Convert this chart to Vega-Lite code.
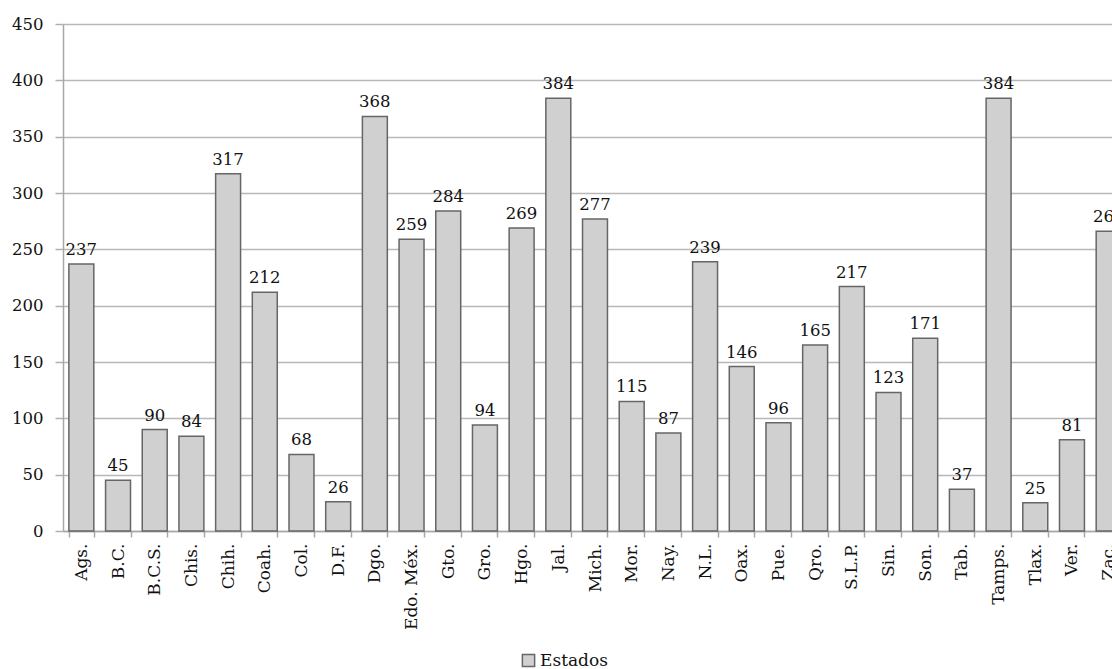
{
  "$schema": "https://vega.github.io/schema/vega-lite/v6.json",
  "autosize": {"type": "none"},
  "padding": {"left": 63, "top": 24, "right": 0, "bottom": 138},
  "width": 1049,
  "height": 507,
  "background": "white",
  "config": {
    "view": {"stroke": null},
    "font": "DejaVu Serif"
  },
  "data": {
    "values": [
      {"estado": "Ags.", "valor": 237, "serie": "Estados"},
      {"estado": "B.C.", "valor": 45, "serie": "Estados"},
      {"estado": "B.C.S.", "valor": 90, "serie": "Estados"},
      {"estado": "Chis.", "valor": 84, "serie": "Estados"},
      {"estado": "Chih.", "valor": 317, "serie": "Estados"},
      {"estado": "Coah.", "valor": 212, "serie": "Estados"},
      {"estado": "Col.", "valor": 68, "serie": "Estados"},
      {"estado": "D.F.", "valor": 26, "serie": "Estados"},
      {"estado": "Dgo.", "valor": 368, "serie": "Estados"},
      {"estado": "Edo. Méx.", "valor": 259, "serie": "Estados"},
      {"estado": "Gto.", "valor": 284, "serie": "Estados"},
      {"estado": "Gro.", "valor": 94, "serie": "Estados"},
      {"estado": "Hgo.", "valor": 269, "serie": "Estados"},
      {"estado": "Jal.", "valor": 384, "serie": "Estados"},
      {"estado": "Mich.", "valor": 277, "serie": "Estados"},
      {"estado": "Mor.", "valor": 115, "serie": "Estados"},
      {"estado": "Nay.", "valor": 87, "serie": "Estados"},
      {"estado": "N.L.", "valor": 239, "serie": "Estados"},
      {"estado": "Oax.", "valor": 146, "serie": "Estados"},
      {"estado": "Pue.", "valor": 96, "serie": "Estados"},
      {"estado": "Qro.", "valor": 165, "serie": "Estados"},
      {"estado": "S.L.P.", "valor": 217, "serie": "Estados"},
      {"estado": "Sin.", "valor": 123, "serie": "Estados"},
      {"estado": "Son.", "valor": 171, "serie": "Estados"},
      {"estado": "Tab.", "valor": 37, "serie": "Estados"},
      {"estado": "Tamps.", "valor": 384, "serie": "Estados"},
      {"estado": "Tlax.", "valor": 25, "serie": "Estados"},
      {"estado": "Ver.", "valor": 81, "serie": "Estados"},
      {"estado": "Zac.", "valor": 266, "serie": "Estados"}
    ]
  },
  "encoding": {
    "x": {
      "field": "estado",
      "type": "nominal",
      "sort": null,
      "scale": {"range": [0, 1064], "paddingInner": 0.32, "paddingOuter": 0.16},
      "axis": {
        "title": null,
        "labelAngle": -90,
        "labelAlign": "right",
        "labelBaseline": "middle",
        "labelFont": "DejaVu Serif",
        "labelFontSize": 17,
        "labelColor": "#111111",
        "labelPadding": 6,
        "labelOverlap": false,
        "labelBound": false,
        "tickBand": "extent",
        "tickSize": 6,
        "tickColor": "#a8a8a8",
        "tickWidth": 1.5,
        "domainColor": "#a8a8a8",
        "domainWidth": 1.5,
        "grid": false
      }
    },
    "y": {
      "field": "valor",
      "type": "quantitative",
      "scale": {"domain": [0, 450], "nice": false},
      "axis": {
        "title": null,
        "values": [0, 50, 100, 150, 200, 250, 300, 350, 400, 450],
        "labelFont": "DejaVu Serif",
        "labelFontSize": 16.5,
        "labelColor": "#111111",
        "labelPadding": 12,
        "tickSize": 8,
        "tickColor": "#b0b0b0",
        "tickWidth": 1.5,
        "domainColor": "#a8a8a8",
        "domainWidth": 1.5,
        "grid": true,
        "gridColor": "#b8b8b8",
        "gridWidth": 1.5
      }
    }
  },
  "layer": [
    {
      "mark": {"type": "bar", "stroke": "#666666", "strokeWidth": 1.5},
      "encoding": {
        "color": {
          "field": "serie",
          "type": "nominal",
          "scale": {"range": ["#d0d0d0"]},
          "legend": {
            "title": null,
            "orient": "none",
            "legendX": 457,
            "legendY": 628,
            "symbolType": "square",
            "symbolSize": 150,
            "symbolStrokeColor": "#666666",
            "symbolStrokeWidth": 1.5,
            "labelFont": "DejaVu Serif",
            "labelFontSize": 17,
            "labelColor": "#111111",
            "labelOffset": 3
          }
        }
      }
    },
    {
      "mark": {
        "type": "text",
        "baseline": "alphabetic",
        "dy": -9,
        "font": "DejaVu Serif",
        "fontSize": 16.5,
        "color": "#111111"
      },
      "encoding": {
        "text": {"field": "valor", "type": "quantitative"}
      }
    }
  ]
}
